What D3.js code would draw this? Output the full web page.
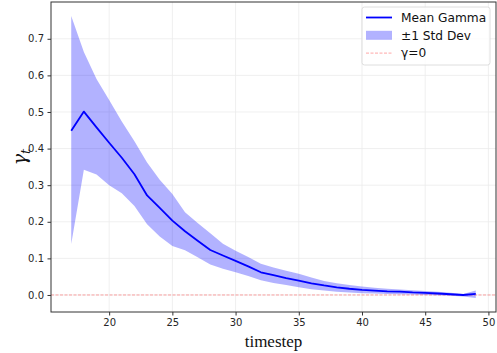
<!DOCTYPE html>
<html>
<head>
<meta charset="utf-8">
<script src="https://cdn.jsdelivr.net/npm/d3@7"></script>
<style>
  body { margin: 0; background: #fff; }
  svg { display: block; font-family: "DejaVu Sans", sans-serif; }
  .tick text { fill: #262626; }
</style>
</head>
<body>
<div id="chart"></div>
<script>
// timesteps 17..49
const timesteps = [17, 18, 19, 20, 21, 22, 23, 24, 25, 26, 27, 28, 29, 30, 31, 32, 33,
  34, 35, 36, 37, 38, 39, 40, 41, 42, 43, 44, 45, 46, 47, 48, 49];

const meanGamma = [0.449, 0.501, 0.458, 0.416, 0.375, 0.330, 0.272, 0.238, 0.203, 0.174,
  0.148, 0.123, 0.108, 0.093, 0.078, 0.062, 0.054, 0.046, 0.039, 0.032, 0.026, 0.021,
  0.017, 0.014, 0.012, 0.010, 0.009, 0.007, 0.006, 0.004, 0.002, 0.000, 0.003];

const upperStd = [0.762, 0.664, 0.590, 0.533, 0.474, 0.420, 0.362, 0.315, 0.276, 0.226,
  0.197, 0.169, 0.140, 0.121, 0.104, 0.085, 0.075, 0.066, 0.058, 0.048, 0.038, 0.032,
  0.027, 0.023, 0.020, 0.017, 0.015, 0.013, 0.011, 0.009, 0.006, 0.003, 0.012];

const lowerStd = [0.139, 0.342, 0.329, 0.300, 0.278, 0.243, 0.193, 0.160, 0.134, 0.122,
  0.103, 0.083, 0.072, 0.062, 0.052, 0.040, 0.033, 0.027, 0.021, 0.016, 0.012, 0.009,
  0.007, 0.005, 0.004, 0.003, 0.002, 0.001, 0.000, -0.001, -0.002, -0.004, -0.008];

const xTicks = [20, 25, 30, 35, 40, 45, 50];
const yTicks = [0.0, 0.1, 0.2, 0.3, 0.4, 0.5, 0.6, 0.7];

const width = 497, height = 353;
const margin = { top: 2, right: 1, bottom: 41, left: 51 };
const w = width - margin.left - margin.right;
const h = height - margin.top - margin.bottom;

const rows = timesteps.map((t, i) => ({ t, mean: meanGamma[i], lo: lowerStd[i], hi: upperStd[i] }));

// matplotlib-style 5% padding around the data
const xExt = d3.extent(timesteps);
const xPad = (xExt[1] - xExt[0]) * 0.05;
const yLo = d3.min(lowerStd), yHi = d3.max(upperStd);
const yPad = (yHi - yLo) * 0.05;

const x = d3.scaleLinear().domain([xExt[0] - xPad, xExt[1] + xPad]).range([0, w]);
const y = d3.scaleLinear().domain([yLo - yPad, yHi + yPad]).range([h, 0]);

const svg = d3.select('#chart').append('svg').attr('width', width).attr('height', height);
const g = svg.append('g').attr('transform', `translate(${margin.left},${margin.top})`);

// grid
g.append('g').selectAll('line').data(xTicks).enter().append('line')
  .attr('x1', d => x(d)).attr('x2', d => x(d)).attr('y1', 0).attr('y2', h)
  .attr('stroke', '#ebebeb').attr('stroke-width', 0.8);
g.append('g').selectAll('line').data(yTicks).enter().append('line')
  .attr('y1', d => y(d)).attr('y2', d => y(d)).attr('x1', 0).attr('x2', w)
  .attr('stroke', '#ebebeb').attr('stroke-width', 0.8);

// std band
const area = d3.area().x(d => x(d.t)).y0(d => y(d.lo)).y1(d => y(d.hi));
g.append('path').datum(rows).attr('d', area)
  .attr('fill', '#0000ff').attr('fill-opacity', 0.3);

// gamma = 0 reference
g.append('line').attr('x1', 0).attr('x2', w).attr('y1', y(0)).attr('y2', y(0))
  .attr('stroke', '#ff0000').attr('stroke-opacity', 0.35).attr('stroke-width', 1)
  .attr('stroke-dasharray', '3,1.5');

// mean line
const line = d3.line().x(d => x(d.t)).y(d => y(d.mean));
g.append('path').datum(rows).attr('d', line)
  .attr('fill', 'none').attr('stroke', '#0000ff').attr('stroke-width', 1.8)
  .attr('stroke-linejoin', 'round');

// axes
const xAxis = g.append('g').attr('transform', `translate(0,${h})`)
  .call(d3.axisBottom(x).tickValues(xTicks).tickFormat(d3.format('d')).tickSize(3.5).tickPadding(3.5));
const yAxis = g.append('g')
  .call(d3.axisLeft(y).tickValues(yTicks).tickFormat(d3.format('.1f')).tickSize(3.5).tickPadding(3.5));
[xAxis, yAxis].forEach(a => {
  a.select('.domain').remove();
  a.selectAll('.tick line').attr('stroke', '#333');
  a.selectAll('.tick text').attr('font-size', 10).attr('font-family', '"DejaVu Sans", sans-serif');
});

// frame
g.append('rect').attr('width', w).attr('height', h)
  .attr('fill', 'none').attr('stroke', '#333').attr('stroke-width', 1);

// axis labels
svg.append('text').attr('x', margin.left + w / 2).attr('y', 347)
  .attr('text-anchor', 'middle').attr('font-family', '"Liberation Serif", "DejaVu Serif", serif')
  .attr('font-size', 17).attr('fill', '#111').text('timestep');

const yl = svg.append('text').attr('transform', `translate(26,${margin.top + h / 2}) rotate(-90)`)
  .attr('text-anchor', 'middle').attr('font-family', '"DejaVu Serif", serif')
  .attr('font-style', 'italic').attr('font-size', 19).attr('fill', '#111');
yl.append('tspan').text('γ');
yl.append('tspan').attr('font-size', 13).attr('dy', 4).text('t');

// legend
const legend = svg.append('g').attr('transform', 'translate(362,7)');
legend.append('rect').attr('width', 128).attr('height', 58).attr('rx', 2.5)
  .attr('fill', '#fff').attr('fill-opacity', 0.8).attr('stroke', '#d6d6d6').attr('stroke-width', 0.8);

const items = [
  { label: 'Mean Gamma', kind: 'line' },
  { label: '±1 Std Dev', kind: 'patch' },
  { label: 'γ=0', kind: 'dash' },
];
const it = legend.selectAll('g.item').data(items).enter().append('g')
  .attr('transform', (d, i) => `translate(4,${10.5 + i * 17.8})`);
it.filter(d => d.kind === 'line').append('line')
  .attr('x1', 0).attr('x2', 26).attr('stroke', '#0000ff').attr('stroke-width', 1.8);
it.filter(d => d.kind === 'patch').append('rect')
  .attr('x', 0).attr('y', -4.5).attr('width', 26).attr('height', 9)
  .attr('fill', '#0000ff').attr('fill-opacity', 0.3);
it.filter(d => d.kind === 'dash').append('line')
  .attr('x1', 0).attr('x2', 26).attr('stroke', '#ff0000').attr('stroke-opacity', 0.35)
  .attr('stroke-width', 1).attr('stroke-dasharray', '3,1.5');
it.append('text').attr('x', 35).attr('dy', '0.35em')
  .attr('font-size', 12.2).attr('fill', '#111').text(d => d.label);
</script>
</body>
</html>
